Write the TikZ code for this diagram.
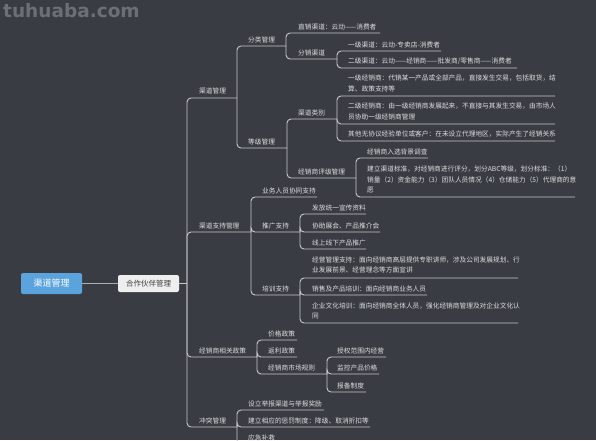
\documentclass[tikz,border=0pt]{standalone}
\usepackage{fontspec}
\setmainfont{Noto Sans CJK SC}
\newfontfamily\wmfont{DejaVu Sans}

\begin{document}
\begin{tikzpicture}[x=1pt,y=-1pt,
  topic/.style={anchor=west,inner sep=0pt,text=tc,align=left,font=\fontsize{6.7}{10.6}\selectfont},
  link/.style={draw=lc,line width=0.9pt,rounded corners=4pt}]
\definecolor{bg}{RGB}{57,60,66}
\definecolor{lc}{RGB}{200,201,204}
\definecolor{tc}{RGB}{222,222,224}
\definecolor{rootc}{RGB}{91,163,221}
\definecolor{boxc}{RGB}{238,238,238}
\definecolor{wmc}{RGB}{108,111,116}

\fill[bg] (0,0) rectangle (596,440);
\clip (0,0) rectangle (596,440);

\node[anchor=north west,inner sep=0pt,text=wmc,font=\wmfont\bfseries\fontsize{18.5}{20}\selectfont] (wm) at (3,3.5) {tuhuaba.com};

% root and main branch
\node[fill=rootc,rounded corners=2pt,minimum width=61pt,minimum height=21pt,inner sep=0pt,text=white,font=\fontsize{9}{10}\selectfont] (root) at (51.5,283.5) {渠道管理};
\node[fill=boxc,rounded corners=2pt,minimum width=61pt,minimum height=17pt,inner sep=0pt,text=black!75,font=\fontsize{7.5}{9}\selectfont] (hz) at (148.5,283.5) {合作伙伴管理};
\coordinate (trunk) at (187,283.5);
\draw[lc!80!bg,line width=1pt] (root) -- (hz);
\draw[link] (hz.east) -- (trunk);

% level 1
\node[topic] (qd) at (199,91) {渠道管理};        \coordinate (qd-e) at (237,98);
\node[topic] (zc) at (199,225.5) {渠道支持管理};  \coordinate (zc-e) at (251,232);
\node[topic] (xg) at (199,350.5) {经销商相关政策};\coordinate (xg-e) at (257,357);
\node[topic] (ct) at (199,420.5) {冲突管理};      \coordinate (ct-e) at (237,427);

% 渠道管理
\node[topic] (fl) at (248,39.5) {分类管理};  \coordinate (fl-e) at (286,46);
\node[topic] (dj) at (248,141.5) {等级管理}; \coordinate (dj-e) at (287,148);
\node[topic] (zx) at (298,26.5) {直销渠道：云动——消费者}; \coordinate (zx-e) at (380,33);
\node[topic] (fx) at (298,52.5) {分销渠道};                 \coordinate (fx-e) at (337,59);
\node[topic] (yj) at (348,44.5) {一级渠道：云动-专卖店-消费者};                   \coordinate (yj-e) at (441,51);
\node[topic] (ej) at (348,61.5) {二级渠道：云动——经销商——批发商/零售商——消费者}; \coordinate (ej-e) at (517,68);
\node[topic] (lb) at (298,112.5) {渠道类别};       \coordinate (lb-e) at (337,119);
\node[topic] (pj) at (298,171.5) {经销商评级管理}; \coordinate (pj-e) at (356,178);
\node[topic] (lb1) at (348,83.5) {一级经销商：代销某一产品或全部产品，直接发生交易，包括取货，结\\算、政策支持等}; \coordinate (lb1-e) at (555,96);
\node[topic] (lb2) at (348,111.5) {二级经销商：由一级经销商发展起来，不直接与其发生交易，由市场人\\员协助一级经销商管理}; \coordinate (lb2-e) at (555,124);
\node[topic] (lb3) at (348,134.5) {其他无协议经验单位或客户：在未设立代理地区，实际产生了经销关系}; \coordinate (lb3-e) at (555,141);
\node[topic] (pj1) at (367,151.5) {经销商入选背景调查}; \coordinate (pj1-e) at (428,158);
\node[topic] (pj2) at (367,179.5) {建立渠道标准，对经销商进行评分，划分ABC等级，划分标准：（1）\\销量（2）资金能力（3）团队人员情况（4）仓储能力（5）代理商的意\\愿}; \coordinate (pj2-e) at (575,197);

% 渠道支持管理
\node[topic] (ry) at (262,190.5) {业务人员协同支持}; \coordinate (ry-e) at (317,197);
\node[topic] (tg) at (262,225.5) {推广支持};         \coordinate (tg-e) at (300,232);
\node[topic] (px) at (262,288.5) {培训支持};         \coordinate (px-e) at (300,295);
\node[topic] (tg1) at (312,207.5) {发放统一宣传资料};     \coordinate (tg1-e) at (366,214);
\node[topic] (tg2) at (312,225.5) {协助展会、产品推介会}; \coordinate (tg2-e) at (380,232);
\node[topic] (tg3) at (312,242.5) {线上线下产品推广};     \coordinate (tg3-e) at (366,249);
\node[topic] (px1) at (312,265) {经营管理支持：面向经销商高层提供专职讲师，涉及公司发展规划、行\\业发展前景、经营理念等方面宣讲}; \coordinate (px1-e) at (518,278);
\node[topic] (px2) at (312,288.5) {销售及产品培训：面向经销商业务人员}; \coordinate (px2-e) at (427,295);
\node[topic] (px3) at (312,311) {企业文化培训：面向经销商全体人员，强化经销商管理及对企业文化认\\同}; \coordinate (px3-e) at (518,323);

% 经销商相关政策
\node[topic] (jg) at (268,333.5) {价格政策};       \coordinate (jg-e) at (297,340);
\node[topic] (fl2) at (268,350.5) {返利政策};      \coordinate (fl2-e) at (297,357);
\node[topic] (sc) at (268,367.5) {经销商市场规则}; \coordinate (sc-e) at (327,374);
\node[topic] (sc1) at (337,350.5) {授权范围内经营}; \coordinate (sc1-e) at (386,357);
\node[topic] (sc2) at (337,367.5) {监控产品价格};   \coordinate (sc2-e) at (379,374);
\node[topic] (sc3) at (337,385.5) {报备制度};       \coordinate (sc3-e) at (366,392);

% 冲突管理
\node[topic] (ct1) at (248,403.5) {设立举报渠道与举报奖励};             \coordinate (ct1-e) at (324,410);
\node[topic] (ct2) at (248,420.5) {建立相应的惩罚制度：降级、取消折扣等}; \coordinate (ct2-e) at (370,427);
\node[topic] (ct3) at (248,437.5) {应急补救};                           \coordinate (ct3-e) at (276,444);

% connectors
\foreach \p/\c in {trunk/qd,trunk/zc,trunk/xg,trunk/ct,
    qd-e/fl,qd-e/dj,fl-e/zx,fl-e/fx,fx-e/yj,fx-e/ej,
    dj-e/lb,dj-e/pj,lb-e/lb1,lb-e/lb2,lb-e/lb3,pj-e/pj1,pj-e/pj2,
    zc-e/ry,zc-e/tg,zc-e/px,tg-e/tg1,tg-e/tg2,tg-e/tg3,
    px-e/px1,px-e/px2,px-e/px3,
    xg-e/jg,xg-e/fl2,xg-e/sc,sc-e/sc1,sc-e/sc2,sc-e/sc3,
    ct-e/ct1,ct-e/ct2,ct-e/ct3}
  \draw[link] (\p) |- (\c-e);
\end{tikzpicture}
\end{document}
